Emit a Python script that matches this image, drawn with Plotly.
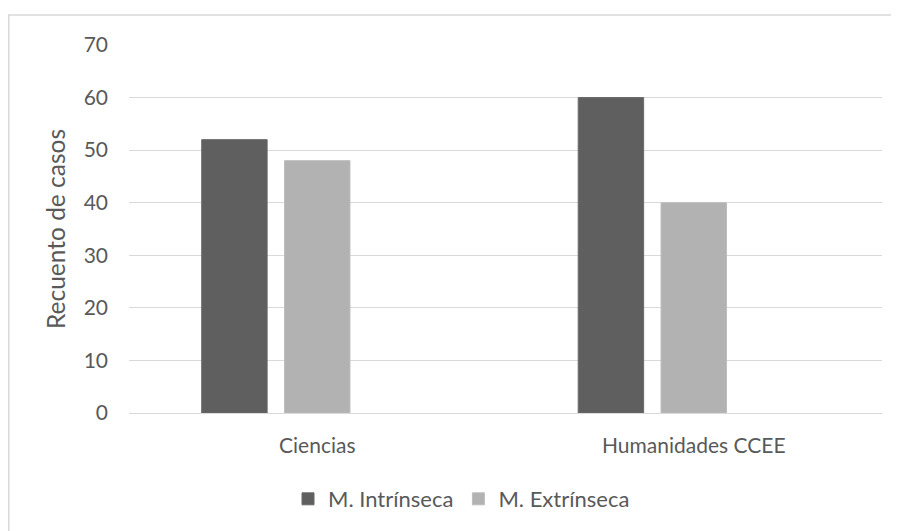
import plotly.graph_objects as go

categories = ["Ciencias", "Humanidades CCEE"]
intrinseca = [52, 60]
extrinseca = [48, 40]
hidden_series = [None, None]
y_ticks = [0, 10, 20, 30, 40, 50, 60, 70]

FONT = "Lato"
TXT = "#595959"

fig = go.Figure()
fig.add_trace(go.Bar(name="M. Intrínseca", x=categories, y=intrinseca,
                     marker=dict(color="#5f5f5f", line=dict(color="#6a6a6a", width=1))))
fig.add_trace(go.Bar(name="M. Extrínseca", x=categories, y=extrinseca,
                     marker=dict(color="#b2b2b2", line=dict(color="#bdbdbd", width=1))))
fig.add_trace(go.Bar(name="", x=categories, y=hidden_series, showlegend=False,
                     marker=dict(color="rgba(0,0,0,0)")))

# page body margin shifts the figure by 8px
W, H = 891, 523
L, R, T, B = 121, 17, 37, 117
pw = W - L - R
ph = H - T - B

def px_x(p):
    return (p - L) / pw

def px_y(p):
    return (H - B - p) / ph

fig.update_layout(
    width=W, height=H,
    margin=dict(l=L, r=R, t=T, b=B),
    paper_bgcolor="white", plot_bgcolor="white",
    barmode="group", bargap=0.34, bargroupgap=0.21,
    font=dict(family=FONT, size=21, color=TXT),
    xaxis=dict(showgrid=False, showline=False, ticks="", tickfont=dict(size=21, color=TXT),
               ticklabelstandoff=18),
    yaxis=dict(range=[0, 70], tickvals=y_ticks, showgrid=True, gridcolor="#d9d9d9",
               gridwidth=1.3, zeroline=True, zerolinecolor="#d9d9d9", zerolinewidth=1.3,
               ticks="", tickfont=dict(size=21, color=TXT), ticklabelstandoff=20,
               title=dict(text="Recuento de casos", font=dict(size=24.5, color=TXT), standoff=11)),
    legend=dict(orientation="h", x=px_x(280), xanchor="left", y=px_y(491), yanchor="middle",
                font=dict(size=22, color=TXT), itemwidth=30, traceorder="normal"),
    showlegend=True,
    shapes=[dict(type="rect", xref="paper", yref="paper",
                 x0=px_x(0.75), x1=px_x(1000), y0=px_y(700), y1=px_y(7),
                 line=dict(color="#d9d9d9", width=1.5), fillcolor="rgba(0,0,0,0)", layer="below")],
)

fig.write_html("out.html")
